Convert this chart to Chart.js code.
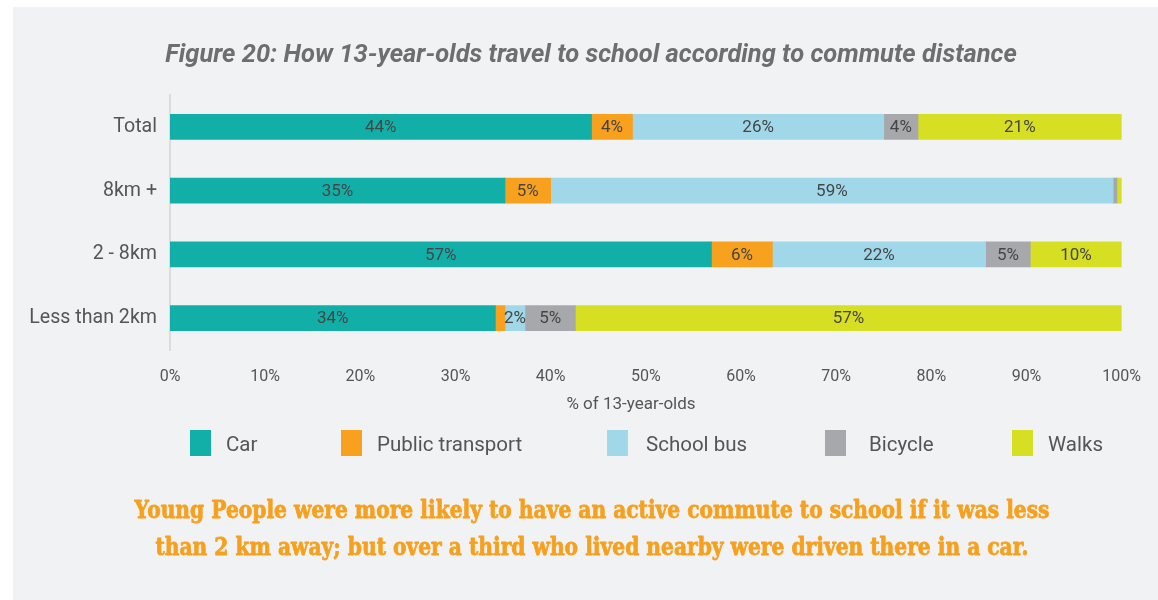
<!DOCTYPE html>
<html>
<head>
<meta charset="utf-8">
<title>How 13-year-olds travel to school according to commute distance</title>
<script src="https://cdn.jsdelivr.net/npm/chart.js@4.4.1/dist/chart.umd.min.js"></script>
<style>
  html, body { margin: 0; padding: 0; background: #ffffff; }
  #wrap { position: relative; width: 1158px; height: 600px; overflow: hidden; }
  #panel { position: absolute; left: 13px; top: 7px; right: 0; bottom: 0; background: #f1f2f4; }
  #chart { position: absolute; left: 0; top: 0; }
</style>
</head>
<body>
<div id="wrap">
  <div id="panel"></div>
  <canvas id="chart" width="1158" height="600"></canvas>
</div>
<script>
// Commute distance groups (rows of the chart)
const categories = ['Total', '8km +', '2 - 8km', 'Less than 2km'];

// Share of 13-year-olds by travel mode, in percent
const car             = [44.3, 35.2, 56.9, 34.2];
const publicTransport = [4.3, 4.8, 6.4, 1.0];
const schoolBus       = [26.4, 59.1, 22.4, 2.1];
const bicycle         = [3.6, 0.4, 4.7, 5.3];
const walks           = [21.4, 0.5, 9.6, 57.4];

// Travel-mode names and their colours
const modeNames  = ['Car', 'Public transport', 'School bus', 'Bicycle', 'Walks'];
const modeColors = ['#12afa9', '#f7a11f', '#a0d8ea', '#a7a8ab', '#d7df23'];

// Horizontal axis tick labels
const xTickLabels = ['0%', '10%', '20%', '30%', '40%', '50%', '60%', '70%', '80%', '90%', '100%'];

const chartTitle = 'Figure 20: How 13-year-olds travel to school according to commute distance';
const xAxisTitle = '% of 13-year-olds';
const footerLines = [
  'Young People were more likely to have an active commute to school if it was less',
  'than 2 km away; but over a third who lived nearby were driven there in a car.'
];

// Legend layout: left edge of each swatch and the gap to its caption
const legendBoxX = [190, 341, 607, 825, 1012];
const legendTextGap = [15, 15, 18, 23, 15];

const seriesValues = [car, publicTransport, schoolBus, bicycle, walks];

const datasets = seriesValues.map((values, i) => ({
  label: modeNames[i],
  data: values,
  backgroundColor: modeColors[i],
  borderWidth: 0,
  barThickness: 25
}));

// Percentage printed in the middle of each segment wide enough to hold it
const segmentLabels = {
  id: 'segmentLabels',
  afterDatasetsDraw(chart) {
    const ctx = chart.ctx;
    ctx.save();
    ctx.font = '17px Roboto';
    ctx.fillStyle = '#454545';
    ctx.textAlign = 'center';
    ctx.textBaseline = 'middle';
    chart.data.datasets.forEach((ds, di) => {
      const meta = chart.getDatasetMeta(di);
      meta.data.forEach((bar, i) => {
        const v = ds.data[i];
        if (v < 1.5) return;
        const cx = (bar.x + bar.base) / 2;
        ctx.fillText(Math.round(v) + '%', cx, bar.y + 1);
      });
    });
    ctx.restore();
  }
};

// Title, axis caption, legend and the closing note
const surroundings = {
  id: 'surroundings',
  afterDraw(chart) {
    const ctx = chart.ctx;
    ctx.save();

    ctx.font = 'italic bold 25.5px Roboto';
    ctx.fillStyle = '#6d6e71';
    ctx.textAlign = 'center';
    ctx.textBaseline = 'middle';
    ctx.fillText(chartTitle, 591, 56);

    ctx.font = '17px Roboto';
    ctx.fillStyle = '#555555';
    ctx.fillText(xAxisTitle, 631, 405);

    // legend
    ctx.font = '20.5px Roboto';
    ctx.textAlign = 'left';
    chart.data.datasets.forEach((ds, i) => {
      const x = legendBoxX[i];
      ctx.fillStyle = ds.backgroundColor;
      ctx.fillRect(x, 430, 21, 26);
      ctx.fillStyle = '#555555';
      ctx.fillText(ds.label, x + 21 + legendTextGap[i], 446);
    });

    // closing note: heavy slab serif, squeezed horizontally to a condensed cut
    ctx.font = 'bold 24px "DejaVu Serif", serif';
    ctx.fillStyle = '#f6a01e';
    ctx.strokeStyle = '#f6a01e';
    ctx.lineWidth = 0.8;
    ctx.lineJoin = 'round';
    ctx.textAlign = 'center';
    const squeeze = 915 / ctx.measureText(footerLines[0]).width;
    ctx.translate(592, 0);
    ctx.scale(squeeze, 1);
    footerLines.forEach((line, i) => {
      const y = 512 + i * 37;
      ctx.fillText(line, 0, y);
      ctx.strokeText(line, 0, y);
    });

    ctx.restore();
  }
};

new Chart(document.getElementById('chart'), {
  type: 'bar',
  data: { labels: categories, datasets },
  options: {
    indexAxis: 'y',
    responsive: false,
    animation: false,
    devicePixelRatio: 1,
    layout: { padding: { top: 95, right: 36, bottom: 210, left: 0 } },
    plugins: {
      legend: { display: false },
      title: { display: false },
      tooltip: { enabled: false }
    },
    scales: {
      x: {
        stacked: true,
        min: 0,
        max: 100,
        grid: { display: false, drawTicks: false },
        border: { display: false },
        ticks: {
          stepSize: 10,
          padding: 17,
          color: '#555555',
          font: { family: 'Roboto', size: 16 },
          callback: (v, i) => xTickLabels[i]
        },
        afterFit: s => { s.height = 40; }
      },
      y: {
        stacked: true,
        grid: { display: false, drawTicks: false },
        border: { display: true, color: '#dcdcdc', width: 2 },
        ticks: {
          padding: 13,
          color: '#555555',
          font: { family: 'Roboto', size: 19.6 }
        },
        afterFit: s => { s.width = 170; }
      }
    }
  },
  plugins: [segmentLabels, surroundings]
});
</script>
</body>
</html>
